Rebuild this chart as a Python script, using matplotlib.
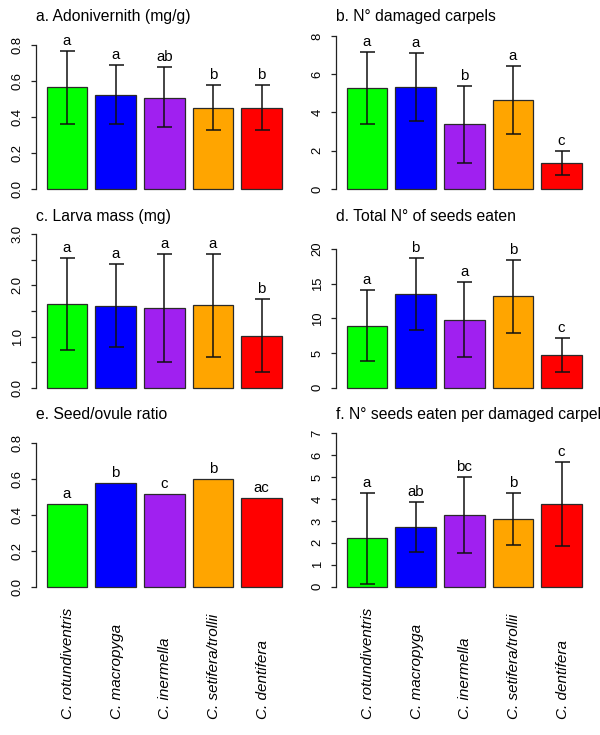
import matplotlib.pyplot as plt
import matplotlib.transforms as mtransforms

plt.rcParams['font.family'] = ['Liberation Sans', 'DejaVu Sans']

species = ['C. rotundiventris', 'C. macropyga', 'C. inermella',
           'C. setifera/trollii', 'C. dentifera']
colors = ['#00ff00', '#0000ff', '#a020f0', '#ffa500', '#ff0000']

# a. Adonivernith
adon_mean = [0.565, 0.522, 0.507, 0.452, 0.452]
adon_hi = [0.767, 0.687, 0.676, 0.580, 0.580]
adon_lo = [0.361, 0.359, 0.343, 0.326, 0.326]
adon_let = ['a', 'a', 'ab', 'b', 'b']

# b. damaged carpels
carp_mean = [5.30, 5.32, 3.38, 4.65, 1.36]
carp_hi = [7.16, 7.09, 5.39, 6.43, 1.99]
carp_lo = [3.42, 3.56, 1.34, 2.86, 0.73]
carp_let = ['a', 'a', 'b', 'a', 'c']

# c. larva mass
larva_mean = [1.63, 1.60, 1.55, 1.62, 1.02]
larva_hi = [2.53, 2.42, 2.61, 2.62, 1.73]
larva_lo = [0.73, 0.80, 0.51, 0.61, 0.31]
larva_let = ['a', 'a', 'a', 'a', 'b']

# d. total seeds eaten
seeds_mean = [8.94, 13.46, 9.81, 13.17, 4.71]
seeds_hi = [14.09, 18.65, 15.29, 18.46, 7.12]
seeds_lo = [3.89, 8.32, 4.38, 7.93, 2.31]
seeds_let = ['a', 'b', 'a', 'b', 'c']

# e. seed/ovule ratio
ratio_mean = [0.461, 0.578, 0.513, 0.596, 0.491]
ratio_let = ['a', 'b', 'c', 'b', 'ac']

# f. seeds per damaged carpel
per_mean = [2.21, 2.74, 3.26, 3.10, 3.76]
per_hi = [4.28, 3.88, 4.99, 4.29, 5.69]
per_lo = [0.12, 1.57, 1.54, 1.90, 1.86]
per_let = ['a', 'ab', 'bc', 'b', 'c']

W, H = 600, 735
fig = plt.figure(figsize=(W / 100, H / 100), dpi=100)

xpos = [0.7 + 1.2 * i for i in range(5)]


def panel(left, y0, ytop, title, mean, lo, hi, letters, ticks, ticklabels, title_y):
    ax = fig.add_axes([left / W, 1 - y0 / H, 254 / W, (y0 - ytop) / H])
    ax.bar(xpos, mean, width=1.0, color=colors, edgecolor='#2a2a2a',
           linewidth=0.9, clip_on=False, zorder=2)
    if hi is not None:
        for x, m, l, h in zip(xpos, mean, lo, hi):
            ax.errorbar([x], [m], yerr=[[m - l], [h - m]], fmt='none',
                        ecolor='#111111', elinewidth=1.1, capsize=5.4,
                        capthick=1.1, clip_on=False, zorder=3)
        tops = hi
    else:
        tops = mean
    for x, t, s in zip(xpos, tops, letters):
        ax.annotate(s, (x, t), xytext=(0, 4.3), textcoords='offset points',
                    ha='center', va='baseline', fontsize=10.8,
                    annotation_clip=False)
    ax.set_xlim(-0.06, 6.2)
    ax.set_ylim(ticks[0], ticks[-1])
    ax.set_yticks(ticks)
    ax.set_yticklabels(ticklabels)
    for sp in ['top', 'right', 'bottom']:
        ax.spines[sp].set_visible(False)
    ax.spines['left'].set_linewidth(0.9)
    ax.spines['left'].set_color('#222222')
    ax.set_xticks([])
    ax.tick_params(axis='y', length=3.8, width=0.9, color='#222222',
                   pad=5.0, labelsize=9.4, labelrotation=90)
    for lab in ax.get_yticklabels():
        lab.set_va('center')
    ax.patch.set_visible(False)
    fig.text(left / W, 1 - title_y / H, title, ha='left', va='baseline',
             fontsize=11.3)
    return ax


panel(36, 189, 45, 'a. Adonivernith (mg/g)', adon_mean, adon_lo, adon_hi,
      adon_let, [0, 0.2, 0.4, 0.6, 0.8], ['0.0', '0.2', '0.4', '0.6', '0.8'], 21.5)
panel(336, 189, 36, 'b. N\u00b0 damaged carpels', carp_mean, carp_lo, carp_hi,
      carp_let, [0, 2, 4, 6, 8], ['0', '2', '4', '6', '8'], 21.5)
panel(36, 387.7, 234.3, 'c. Larva mass (mg)', larva_mean, larva_lo, larva_hi,
      larva_let, [0, 0.5, 1, 1.5, 2, 2.5, 3],
      ['0.0', '', '1.0', '', '2.0', '', '3.0'], 221)
panel(336, 387.7, 249, 'd. Total N\u00b0 of seeds eaten', seeds_mean, seeds_lo,
      seeds_hi, seeds_let, [0, 5, 10, 15, 20], ['0', '5', '10', '15', '20'], 221)
ax_e = panel(36, 586.7, 442.7, 'e. Seed/ovule ratio', ratio_mean, None, None,
             ratio_let, [0, 0.2, 0.4, 0.6, 0.8],
             ['0.0', '0.2', '0.4', '0.6', '0.8'], 419.3)
ax_f = panel(336, 586.7, 433.3, 'f. N\u00b0 seeds eaten per damaged carpel',
             per_mean, per_lo, per_hi, per_let, list(range(8)),
             [str(i) for i in range(8)], 419.3)

for ax in (ax_e, ax_f):
    tr = mtransforms.blended_transform_factory(ax.transData, fig.transFigure)
    for x, s in zip(xpos, species):
        ax.text(x + 0.13, 1 - 719 / H, s, transform=tr, rotation=90,
                rotation_mode='anchor', ha='left', va='baseline',
                fontsize=11, style='italic')

fig.savefig('out.png', dpi=100)
